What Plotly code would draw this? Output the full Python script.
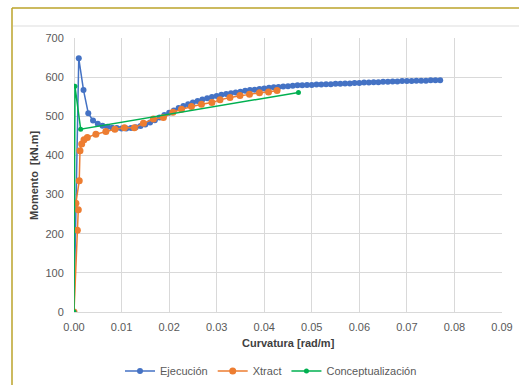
import plotly.graph_objects as go

# Moment-curvature data (curvature in rad/m, moment in kN.m)
ejecucion_curv = [0.000] + [round(0.001 * k, 3) for k in range(1, 78)]
ejecucion_mom = [
    0,
    648, 567, 508, 489, 481, 476, 473, 471, 470, 469,
    469, 470, 472, 475, 479, 484, 490, 497, 503, 509,
    515, 521, 526, 531, 535, 539, 543, 546, 549, 552,
    555, 557, 559, 561, 563, 565, 567, 568, 570, 571,
    573, 574, 575, 576, 577, 578, 579, 579, 580, 580,
    581, 581, 582, 582, 583, 583, 584, 584, 585, 585,
    586, 586, 587, 587, 588, 588, 589, 589, 590, 590,
    590, 591, 591, 591, 592, 592, 592,
]

xtract_curv = [
    0.0000, 0.0007, 0.0009, 0.0004, 0.0011, 0.00126, 0.00162, 0.0021, 0.0028,
    0.0046, 0.0067, 0.0086, 0.0106, 0.0127, 0.0146, 0.0167, 0.0188, 0.0208,
    0.0226, 0.0247, 0.0268, 0.0290, 0.0307, 0.0328, 0.0349, 0.0369, 0.0390,
    0.0409, 0.0427,
]
xtract_mom = [
    0, 209, 261, 278, 335, 412, 429, 440, 446,
    454, 461, 467, 471, 471, 482, 493, 497, 510,
    518, 525, 531, 535, 542, 548, 553, 556, 560,
    562, 566,
]

concept_curv = [0.0000, 0.0002, 0.0014, 0.0472]
concept_mom = [0, 577, 467, 561]

x_ticks = [0.00, 0.01, 0.02, 0.03, 0.04, 0.05, 0.06, 0.07, 0.08, 0.09]
y_ticks = [0, 100, 200, 300, 400, 500, 600, 700]

BLUE = "#4472C4"
ORANGE = "#ED7D31"
GREEN = "#00B050"
GRID = "#d9d9d9"
TEXT = "#595959"
FONT = "Liberation Sans, Arial, sans-serif"

fig = go.Figure()
fig.add_trace(go.Scatter(
    x=ejecucion_curv, y=ejecucion_mom, name="Ejecución", mode="lines+markers",
    line=dict(color=BLUE, width=1.5), marker=dict(color=BLUE, size=6),
))
fig.add_trace(go.Scatter(
    x=xtract_curv, y=xtract_mom, name="Xtract", mode="lines+markers",
    line=dict(color=ORANGE, width=1.5), marker=dict(color=ORANGE, size=7),
))
fig.add_trace(go.Scatter(
    x=concept_curv, y=concept_mom, name="Conceptualización", mode="lines+markers",
    line=dict(color=GREEN, width=1.5), marker=dict(color=GREEN, size=5),
))

W, H = 519, 385
L, R, T, B = 74, 17, 38, 73
pw, ph = W - L - R, H - T - B


def px_x(px):
    return (px - L) / pw


def px_y(py):
    return (H - B - py) / ph


fig.update_layout(
    width=W, height=H,
    margin=dict(l=L, r=R, t=T, b=B, autoexpand=False),
    paper_bgcolor="white", plot_bgcolor="white",
    font=dict(family=FONT, size=11, color=TEXT),
    showlegend=True,
    legend=dict(
        orientation="h", x=px_x(271), xanchor="center", y=px_y(371), yanchor="middle",
        font=dict(size=11, color=TEXT), bgcolor="rgba(0,0,0,0)",
        itemwidth=30, tracegroupgap=0,
    ),
    xaxis=dict(
        range=[0, 0.09], tickvals=x_ticks, ticktext=[f"{v:.2f}" for v in x_ticks],
        showgrid=True, gridcolor=GRID, gridwidth=1,
        zeroline=True, zerolinecolor=GRID, zerolinewidth=1, showline=False,
        ticks="outside", ticklen=5, tickcolor="rgba(0,0,0,0)",
        tickfont=dict(size=11, color=TEXT), automargin=False,
    ),
    yaxis=dict(
        range=[0, 700], tickvals=y_ticks,
        showgrid=True, gridcolor=GRID, gridwidth=1,
        zeroline=True, zerolinecolor=GRID, zerolinewidth=1, showline=False,
        ticks="outside", ticklen=7, tickcolor="rgba(0,0,0,0)",
        tickfont=dict(size=11, color=TEXT), automargin=False,
    ),
    annotations=[
        dict(text="<b>Curvatura [rad/m]</b>", xref="paper", yref="paper",
             x=0.5, y=px_y(343), xanchor="center", yanchor="middle",
             showarrow=False, font=dict(size=11, color="#404040")),
        dict(text="<b>Momento  [kN.m]</b>", xref="paper", yref="paper",
             x=px_x(34), y=0.5, xanchor="center", yanchor="middle", textangle=-90,
             showarrow=False, font=dict(size=11, color="#404040")),
    ],
    shapes=[
        # outer frame lines
        dict(type="line", xref="paper", yref="paper",
             x0=px_x(12), x1=px_x(W + 5), y0=px_y(8), y1=px_y(8),
             line=dict(color="#bba32a", width=1.5)),
        dict(type="line", xref="paper", yref="paper",
             x0=px_x(12), x1=px_x(12), y0=px_y(8), y1=px_y(H + 5),
             line=dict(color="#bba32a", width=1.5)),
        dict(type="line", xref="paper", yref="paper",
             x0=px_x(13), x1=px_x(W + 5), y0=px_y(26), y1=px_y(26),
             line=dict(color="#dddddd", width=1)),
    ],
)

fig.write_html("out.html")
